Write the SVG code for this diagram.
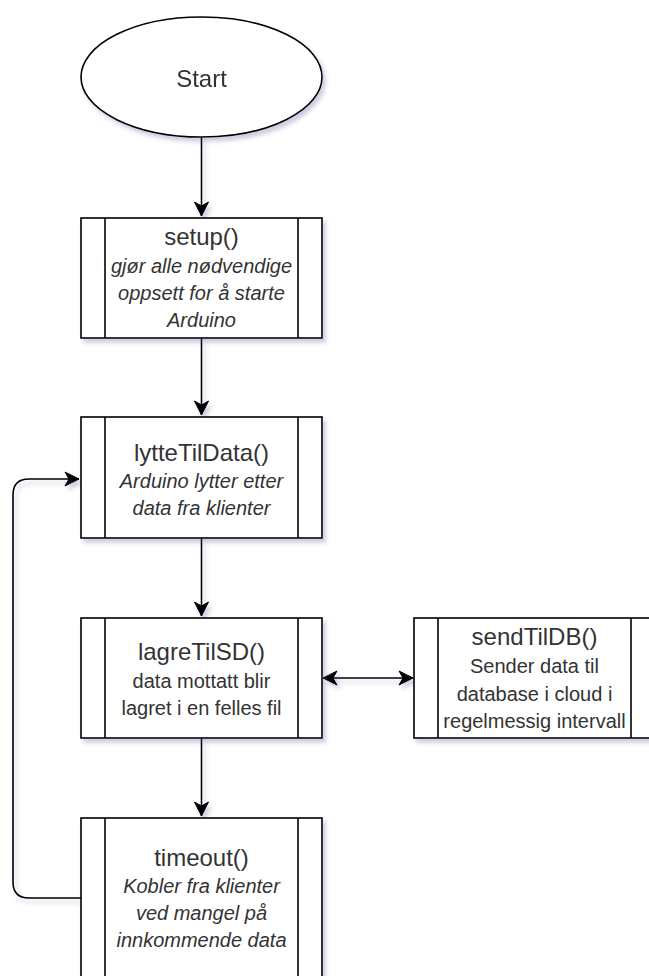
<svg xmlns="http://www.w3.org/2000/svg" width="649" height="976" viewBox="0 0 649 976">
<style>
.shape{fill:#ffffff;stroke:#000000;stroke-width:1.6}
.inner{fill:none;stroke:#000000;stroke-width:1.6}
.edge{fill:none;stroke:#000000;stroke-width:1.6}
.title{font-family:"Liberation Sans",Arial,sans-serif;font-size:24px;fill:#333333;text-anchor:middle}
.body{font-family:"Liberation Sans",Arial,sans-serif;font-size:20px;fill:#333333;text-anchor:middle}
.it{font-style:italic}
</style>
<defs>
<filter id="sh" x="-10%" y="-10%" width="130%" height="130%">
<feDropShadow dx="3" dy="4" stdDeviation="2" flood-color="#5a5a9a" flood-opacity="0.3"/>
</filter>
<marker id="arr" markerUnits="userSpaceOnUse" markerWidth="16" markerHeight="16" viewBox="0 0 16 16" refX="15" refY="8" orient="auto-start-reverse">
<path d="M15,8 L1,1 L5,8 L1,15 Z" fill="#000000" stroke="#000000" stroke-width="1"/>
</marker>
</defs>

<g id="connectors" filter="url(#sh)">
<path class="edge" d="M201.5,137 L201.5,216" marker-end="url(#arr)"/>
<path class="edge" d="M201.5,338 L201.5,415" marker-end="url(#arr)"/>
<path class="edge" d="M201.5,538 L201.5,616" marker-end="url(#arr)"/>
<path class="edge" d="M201.5,738 L201.5,816" marker-end="url(#arr)"/>
<path class="edge" d="M323,678 L413,678" marker-start="url(#arr)" marker-end="url(#arr)"/>
<path class="edge" d="M81,898 L29,898 Q13,898 13,882 L13,495 Q13,479 29,479 L79,479" marker-end="url(#arr)"/>
</g>

<g id="start" filter="url(#sh)">
<ellipse class="shape" cx="201.5" cy="77" rx="120.5" ry="60"/>
<text class="title" x="201.5" y="87">Start</text>
</g>

<g id="setup">
<rect class="shape" x="81" y="218" width="241" height="120" filter="url(#sh)"/>
<line class="inner" x1="105" y1="218" x2="105" y2="338"/>
<line class="inner" x1="298" y1="218" x2="298" y2="338"/>
<text class="title" x="201.5" y="245">setup()</text>
<text class="body it" x="201.5" y="273">gjør alle nødvendige</text>
<text class="body it" x="201.5" y="300">oppsett for å starte</text>
<text class="body it" x="201.5" y="327">Arduino</text>
</g>

<g id="lytteTilData">
<rect class="shape" x="81" y="417" width="241" height="121" filter="url(#sh)"/>
<line class="inner" x1="105" y1="417" x2="105" y2="538"/>
<line class="inner" x1="298" y1="417" x2="298" y2="538"/>
<text class="title" x="201.5" y="461">lytteTilData()</text>
<text class="body it" x="201.5" y="488">Arduino lytter etter</text>
<text class="body it" x="201.5" y="515">data fra klienter</text>
</g>

<g id="lagreTilSD">
<rect class="shape" x="81" y="618" width="241" height="120" filter="url(#sh)"/>
<line class="inner" x1="105" y1="618" x2="105" y2="738"/>
<line class="inner" x1="298" y1="618" x2="298" y2="738"/>
<text class="title" x="201.5" y="660">lagreTilSD()</text>
<text class="body" x="201.5" y="688">data mottatt blir</text>
<text class="body" x="201.5" y="715">lagret i en felles fil</text>
</g>

<g id="sendTilDB">
<rect class="shape" x="414" y="618" width="241" height="120" filter="url(#sh)"/>
<line class="inner" x1="438" y1="618" x2="438" y2="738"/>
<line class="inner" x1="631" y1="618" x2="631" y2="738"/>
<text class="title" x="534.5" y="645">sendTilDB()</text>
<text class="body" x="534.5" y="673">Sender data til</text>
<text class="body" x="534.5" y="701">database i cloud i</text>
<text class="body" x="534.5" y="728">regelmessig intervall</text>
</g>

<g id="timeout">
<rect class="shape" x="81" y="818" width="241" height="160" filter="url(#sh)"/>
<line class="inner" x1="105" y1="818" x2="105" y2="978"/>
<line class="inner" x1="298" y1="818" x2="298" y2="978"/>
<text class="title" x="201.5" y="866">timeout()</text>
<text class="body it" x="201.5" y="893">Kobler fra klienter</text>
<text class="body it" x="201.5" y="920">ved mangel på</text>
<text class="body it" x="201.5" y="947">innkommende data</text>
</g>
</svg>
